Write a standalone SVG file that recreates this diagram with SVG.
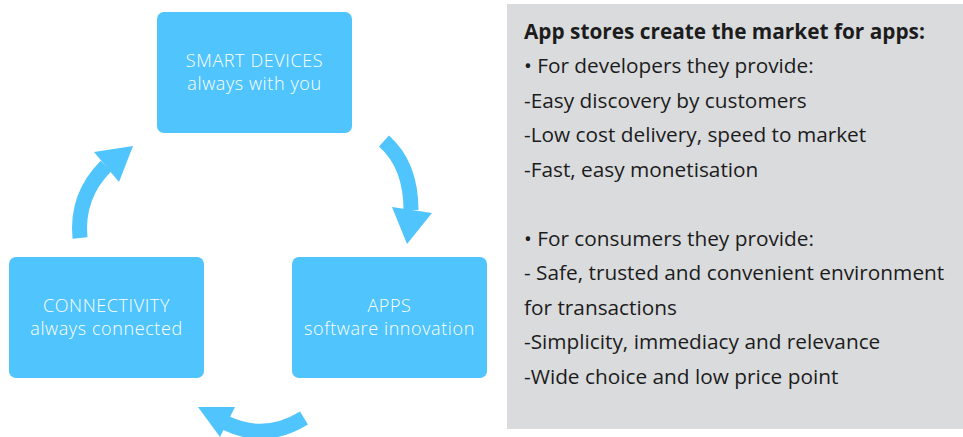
<svg xmlns="http://www.w3.org/2000/svg" width="963" height="437" viewBox="0 0 963 437">
<style>
.node rect{fill:#50C4FD}
.node text{fill:#fff;font-family:"Open Sans","Liberation Sans",sans-serif;font-size:18px;font-weight:300;text-anchor:middle;letter-spacing:0.6px}
.shaft{fill:none;stroke:#50C4FD;stroke-width:15}
.head{fill:#50C4FD}
.panel text{font-family:"Open Sans","Liberation Sans",sans-serif;font-size:20.8px;fill:#1c1c1c}
</style>
<rect width="963" height="437" fill="#fff"/>
<g id="connectors">
<path class="shaft" d="M80,238 Q76,196 106,166"/>
<polygon class="head" points="94,152 133,146 119,182"/>
<path class="shaft" d="M384,141 Q411,165 411,210"/>
<polygon class="head" points="392,207 432,213 407,244"/>
<path class="shaft" d="M304,418 Q265,442 226,423"/>
<polygon class="head" points="235,407 198,407 220,437"/>
</g>
<g id="smart-devices" class="node">
<rect x="157" y="12" width="195" height="121" rx="7"/>
<text x="254.5" y="67">SMART DEVICES</text>
<text x="254.5" y="90">always with you</text>
</g>
<g id="connectivity" class="node">
<rect x="9" y="257" width="195" height="121" rx="7"/>
<text x="106.5" y="312">CONNECTIVITY</text>
<text x="106.5" y="335">always connected</text>
</g>
<g id="apps" class="node">
<rect x="292" y="257" width="195" height="121" rx="7"/>
<text x="389.5" y="312">APPS</text>
<text x="389.5" y="335">software innovation</text>
</g>
<g id="panel" class="panel">
<rect x="507" y="4" width="456" height="425" fill="#DADBDD"/>
<text x="524" y="38.5" font-weight="bold" font-size="20.2">App stores create the market for apps:</text>
<text x="524" y="73">• For developers they provide:</text>
<text x="524" y="107.5">-Easy discovery by customers</text>
<text x="524" y="142">-Low cost delivery, speed to market</text>
<text x="524" y="176.5">-Fast, easy monetisation</text>
<text x="524" y="245.5">• For consumers they provide:</text>
<text x="524" y="280">- Safe, trusted and convenient environment</text>
<text x="524" y="314.5">for transactions</text>
<text x="524" y="349">-Simplicity, immediacy and relevance</text>
<text x="524" y="383.5">-Wide choice and low price point</text>
</g>
</svg>
